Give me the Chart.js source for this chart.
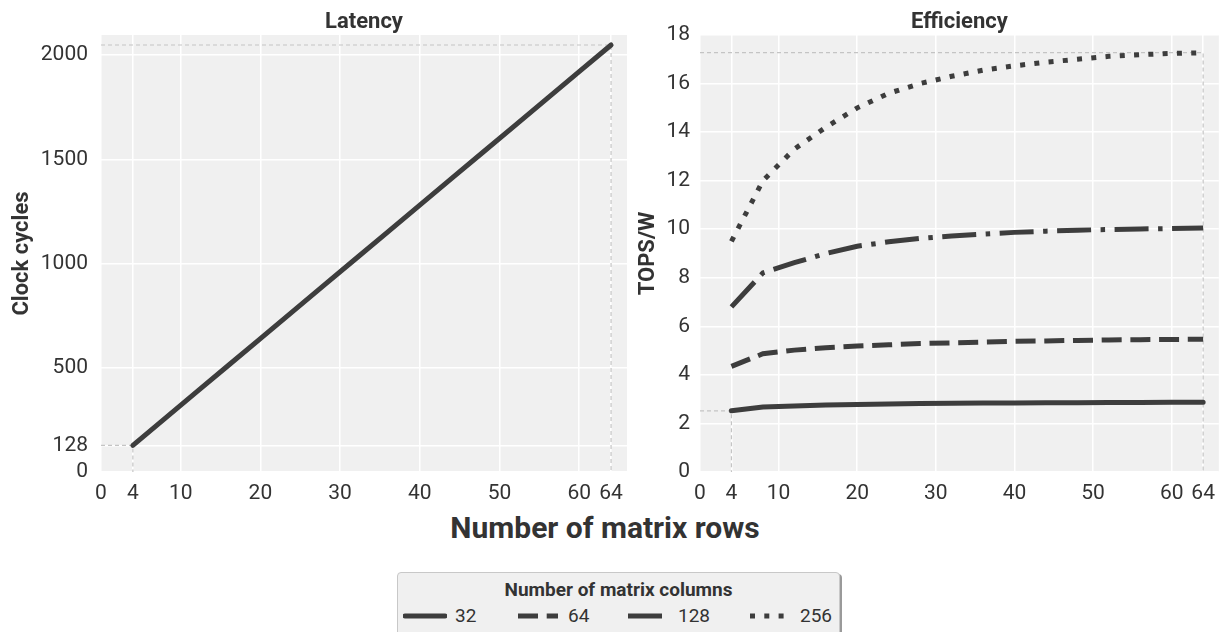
<!DOCTYPE html>
<html>
<head>
<meta charset="utf-8">
<script src="https://cdn.jsdelivr.net/npm/chart.js@4"></script>
<style>
  body { margin: 0; background: #fff; font-family: Roboto, sans-serif; }
  #wrap { position: relative; width: 1224px; height: 632px; overflow: hidden; }
  canvas { position: absolute; top: 0; }
  #c1 { left: 0; }
  #c2 { left: 630px; }
  #xtitle { position: absolute; left: 0; width: 1210px; top: 510px; text-align: center;
            font: bold 30px Roboto, sans-serif; color: #333; }
  #legend { position: absolute; left: 397px; top: 572px; width: 441px; height: 80px;
            background: #f0f0f0; border: 1px solid #c8c8c8; border-radius: 4px;
            box-shadow: 2px 2px 0 #9a9a9a; }
  #legend .ttl { position: absolute; left: 0; width: 100%; top: 5px; text-align: center;
                 font: bold 19px Roboto, sans-serif; color: #333; }
  #legend .item { position: absolute; top: 32px; height: 22px; }
  #legend svg { position: absolute; top: 0; }
  #legend span { position: absolute; top: 0; font: 19px Roboto, sans-serif; color: #333; line-height: 22px; }
</style>
</head>
<body>
<div id="wrap">
  <canvas id="c1" width="640" height="510"></canvas>
  <canvas id="c2" width="594" height="510"></canvas>
  <div id="xtitle">Number of matrix rows</div>
  <div id="legend"><div class="ttl">Number of matrix columns</div></div>
</div>
<script>
// matrix rows (x)
const rows = [4, 8, 12, 16, 20, 24, 28, 32, 36, 40, 44, 48, 52, 56, 60, 64];
// latency in clock cycles
const latency = [128, 256, 384, 512, 640, 768, 896, 1024, 1152, 1280, 1408, 1536, 1664, 1792, 1920, 2048];
// efficiency TOPS/W per number of matrix columns
const eff32  = [2.52, 2.68, 2.72, 2.76, 2.78, 2.80, 2.82, 2.83, 2.84, 2.84, 2.85, 2.85, 2.86, 2.86, 2.87, 2.87];
const eff64  = [4.35, 4.87, 5.02, 5.12, 5.19, 5.24, 5.29, 5.32, 5.35, 5.38, 5.40, 5.42, 5.44, 5.45, 5.46, 5.47];
const eff128 = [6.80, 8.20, 8.62, 9.00, 9.30, 9.48, 9.62, 9.72, 9.80, 9.87, 9.92, 9.96, 9.99, 10.01, 10.03, 10.05];
const eff256 = [9.50, 12.00, 13.30, 14.20, 15.00, 15.60, 16.00, 16.30, 16.55, 16.73, 16.88, 17.00, 17.12, 17.19, 17.24, 17.27];

const colLabels = ['32', '64', '128', '256'];
const xTicks = [0, 4, 10, 20, 30, 40, 50, 60, 64];
const latencyTicks = [0, 128, 500, 1000, 1500, 2000];

const lineColor = '#3d3d3d';
const dashes = [[], [20, 8.7], [34, 9.5, 4.5, 9.5], [5, 9.3]];

const pts = (ys) => rows.map((r, i) => ({ x: r, y: ys[i] }));

// grey plot background + panel title centred over the plot area
const panelBg = {
  id: 'panelBg',
  beforeDraw(chart) {
    const { ctx, chartArea: a } = chart;
    ctx.save();
    ctx.fillStyle = '#f0f0f0';
    ctx.fillRect(a.left, a.top, a.width, a.height);
    ctx.restore();
  },
  afterDraw(chart, args, opts) {
    const { ctx, chartArea: a } = chart;
    ctx.save();
    ctx.font = 'bold 22px Roboto, sans-serif';
    ctx.fillStyle = '#333';
    ctx.textAlign = 'center';
    ctx.textBaseline = 'middle';
    ctx.fillText(opts.text, (a.left + a.right) / 2, 22);
    ctx.restore();
  }
};

function refLine(xEnd, yVal) {
  return {
    data: [{ x: 0, y: yVal }, { x: xEnd, y: yVal }, { x: xEnd, y: 0 }],
    borderColor: '#c4c4c4', borderWidth: 1.2, borderDash: [4, 3],
    pointRadius: 0, order: 5
  };
}

const plain = v => String(v);

function xScale() {
  return {
    type: 'linear', min: 0, max: 66,
    afterBuildTicks: s => { s.ticks = xTicks.map(v => ({ value: v })); },
    afterFit: s => { s.height = 38; },
    grid: { color: '#ffffff', lineWidth: 1.5, drawTicks: false },
    border: { display: false },
    ticks: { font: { size: 21 }, color: '#333', padding: 9, maxRotation: 0, autoSkip: false, callback: plain }
  };
}

function dataLine(ys, i) {
  return {
    label: colLabels[i],
    data: pts(ys),
    borderColor: lineColor,
    borderWidth: 5,
    borderDash: dashes[i],
    borderCapStyle: i === 0 ? 'round' : 'butt',
    pointRadius: 0,
    tension: 0,
    order: 1
  };
}

Chart.defaults.font.family = 'Roboto';

new Chart(document.getElementById('c1'), {
  type: 'line',
  data: {
    datasets: [
      dataLine(latency, 0),
      refLine(rows[0], latency[0]),
      refLine(rows[rows.length - 1], latency[latency.length - 1])
    ]
  },
  options: {
    responsive: false, animation: false,
    layout: { padding: { top: 35, right: 13, left: 0, bottom: 0 } },
    plugins: { legend: { display: false }, tooltip: { enabled: false }, panelBg: { text: 'Latency' } },
    scales: {
      x: xScale(),
      y: {
        type: 'linear', min: 0, max: 2096,
        afterBuildTicks: s => { s.ticks = latencyTicks.map(v => ({ value: v })); },
        afterFit: s => { s.width = 101; },
        grid: { color: '#ffffff', lineWidth: 1.5, drawTicks: false },
        border: { display: false },
        ticks: { font: { size: 21 }, color: '#333', padding: 13, callback: plain },
        title: { display: true, text: 'Clock cycles', color: '#333',
                 font: { size: 22, weight: 'bold' }, padding: { top: 9, bottom: 0 } }
      }
    }
  },
  plugins: [panelBg]
});

new Chart(document.getElementById('c2'), {
  type: 'line',
  data: {
    datasets: [
      dataLine(eff32, 0), dataLine(eff64, 1), dataLine(eff128, 2), dataLine(eff256, 3),
      refLine(rows[0], eff32[0]),
      refLine(rows[rows.length - 1], eff256[eff256.length - 1])
    ]
  },
  options: {
    responsive: false, animation: false,
    layout: { padding: { top: 35, right: 2, left: 0, bottom: 0 } },
    plugins: { legend: { display: false }, tooltip: { enabled: false }, panelBg: { text: 'Efficiency' } },
    scales: {
      x: xScale(),
      y: {
        type: 'linear', min: 0, max: 18,
        afterFit: s => { s.width = 70; },
        grid: { color: '#ffffff', lineWidth: 1.5, drawTicks: false },
        border: { display: false },
        ticks: { stepSize: 2, font: { size: 21 }, color: '#333', padding: 10, callback: plain },
        title: { display: true, text: 'TOPS/W', color: '#333',
                 font: { size: 22, weight: 'bold' }, padding: { top: 5, bottom: 0 } }
      }
    }
  },
  plugins: [panelBg]
});

// shared legend below both panels
const legend = document.getElementById('legend');
const itemX = [5, 118, 228, 350];
colLabels.forEach((lab, i) => {
  const it = document.createElement('div');
  it.className = 'item';
  it.style.left = itemX[i] + 'px';
  const cap = i === 0 ? 'round' : 'butt';
  it.innerHTML =
    '<svg width="44" height="22" style="left:0">' +
    '<line x1="2" y1="11" x2="42" y2="11" stroke="' + lineColor + '" stroke-width="5" stroke-linecap="' + cap + '"' +
    (dashes[i].length ? ' stroke-dasharray="' + dashes[i].join(' ') + '"' : '') + '/></svg>' +
    '<span style="left:52px">' + lab + '</span>';
  legend.appendChild(it);
});
</script>
</body>
</html>
